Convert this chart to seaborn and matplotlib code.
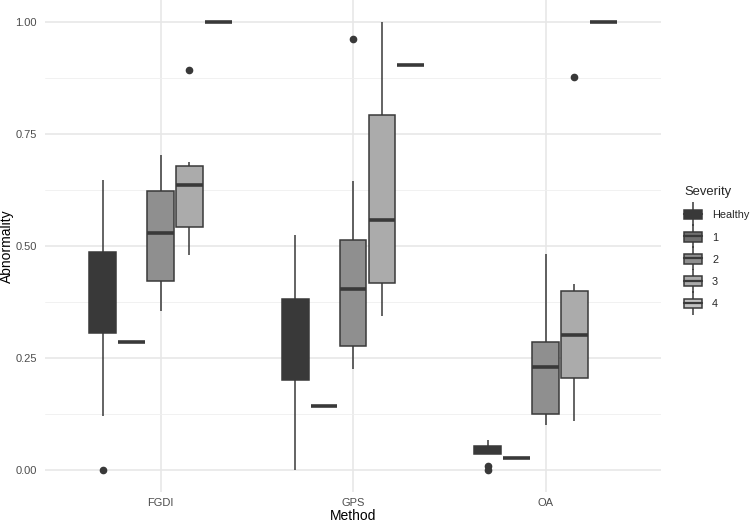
import numpy as np
import pandas as pd
import matplotlib
matplotlib.use("Agg")
import matplotlib.pyplot as plt
from matplotlib.patches import Patch
from matplotlib.lines import Line2D
from matplotlib.legend_handler import HandlerTuple
import seaborn as sns

methods = ["FGDI", "GPS", "OA"]
severities = ["Healthy", "1", "2", "3", "4"]

fgdi_healthy = [0.00, 0.12, 0.306, 0.35, 0.39, 0.44, 0.487, 0.56, 0.648]
fgdi_1 = [0.286]
fgdi_2 = [0.355, 0.422, 0.529, 0.623, 0.703]
fgdi_3 = [0.479, 0.51, 0.542, 0.59, 0.636, 0.66, 0.679, 0.687, 0.893]
fgdi_4 = [1.0]

gps_healthy = [0.0, 0.201, 0.29, 0.3815, 0.524]
gps_1 = [0.142]
gps_2 = [0.226, 0.25, 0.276, 0.34, 0.403, 0.46, 0.513, 0.645, 0.963]
gps_3 = [0.3435, 0.418, 0.558, 0.794, 1.0]
gps_4 = [0.905]

oa_healthy = [0.0, 0.008, 0.036, 0.04, 0.045, 0.048, 0.052, 0.06, 0.066]
oa_1 = [0.0255]
oa_2 = [0.0999, 0.1245, 0.2302, 0.2854, 0.4821]
oa_3 = [0.1095, 0.15, 0.205, 0.25, 0.3018, 0.35, 0.3994, 0.4144, 0.878]
oa_4 = [1.0]

groups = {
    "FGDI": [fgdi_healthy, fgdi_1, fgdi_2, fgdi_3, fgdi_4],
    "GPS": [gps_healthy, gps_1, gps_2, gps_3, gps_4],
    "OA": [oa_healthy, oa_1, oa_2, oa_3, oa_4],
}

rows = []
for m in methods:
    for sev, vals in zip(severities, groups[m]):
        for v in vals:
            rows.append({"Method": m, "Severity": sev, "Abnormality": v})
df = pd.DataFrame(rows)

fills = ["#393939", "#6f6f6f", "#8f8f8f", "#ababab", "#c2c2c2"]
palette = dict(zip(severities, fills))
LINE = "#393939"

sns.set_theme(style="whitegrid")
plt.rcParams["font.family"] = ["Liberation Sans", "DejaVu Sans"]

fig = plt.figure(figsize=(7.5, 5.27), dpi=100)
ax = fig.add_axes([45 / 750, 35 / 527, (661 - 45) / 750, 492 / 527])

sns.boxplot(
    data=df, x="Method", y="Abnormality", hue="Severity",
    order=methods, hue_order=severities, palette=palette,
    width=0.75, gap=0.08, saturation=1, linecolor=LINE, linewidth=1.1,
    showcaps=False, fliersize=4.5,
    flierprops=dict(marker="o", markerfacecolor=LINE, markeredgecolor=LINE),
    medianprops=dict(linewidth=2.6, color=LINE),
    whiskerprops=dict(linewidth=1.1, color=LINE),
    ax=ax, legend=False,
)

ax.set_xlim(-0.6, 2.6)
ax.set_ylim(-0.05, 1.05)
ax.set_yticks([0, 0.25, 0.5, 0.75, 1.0])
ax.set_yticklabels(["0.00", "0.25", "0.50", "0.75", "1.00"])
ax.set_yticks([0.125, 0.375, 0.625, 0.875], minor=True)
ax.set_axisbelow(True)
ax.grid(True, which="major", color="#e6e6e6", linewidth=1.1)
ax.grid(True, which="minor", axis="y", color="#efefef", linewidth=0.6)
ax.grid(True, which="major", axis="x", color="#e6e6e6", linewidth=1.1)
ax.set_facecolor("white")
for s in ax.spines.values():
    s.set_visible(False)
ax.tick_params(axis="both", which="both", length=0, labelsize=8, labelcolor="#4d4d4d")
ax.tick_params(axis="y", pad=6)
ax.tick_params(axis="x", pad=4)
ax.set_xlabel("Method", fontsize=10, color="black", labelpad=1)
ax.set_ylabel("")
fig.text(7 / 750, 1 - 246 / 527, "Abnormality", rotation=90, fontsize=10,
         color="black", ha="center", va="center")

handles = []
for c in fills:
    handles.append((
        Line2D([], [], marker="|", markersize=17, color=LINE, linestyle="None", markeredgewidth=1.1),
        Patch(facecolor=c, edgecolor=LINE, linewidth=1.1),
        Line2D([], [], color=LINE, linewidth=1.6),
    ))
leg = fig.legend(
    handles, severities, title="Severity",
    handler_map={tuple: HandlerTuple(ndivide=1, pad=0)},
    loc="upper left", bbox_to_anchor=(684 / 750, 1 - 186 / 527),
    frameon=False, fontsize=7.8, title_fontsize=9.4,
    handlelength=1.64, handleheight=1.0, labelspacing=1.08,
    handletextpad=0.95, alignment="left", borderaxespad=0, borderpad=0,
)

fig.savefig("out.png", dpi=100, facecolor="white")
